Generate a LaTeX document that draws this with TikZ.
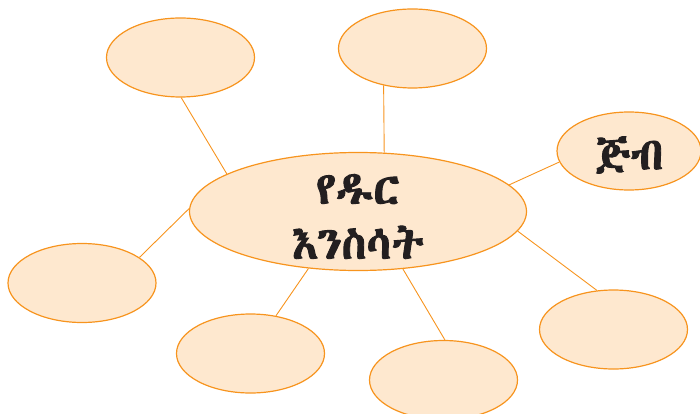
\documentclass[tikz,border=0pt]{standalone}
\usepackage{fontspec}
\usetikzlibrary{positioning}
\usetikzlibrary{shapes.geometric}
\IfFontExistsTF{Abyssinica SIL}{\newfontfamily\ethfont[FakeBold=2]{Abyssinica SIL}}{%
 \IfFontExistsTF{Noto Sans Ethiopic}{\newfontfamily\ethfont[FakeBold=2]{Noto Sans Ethiopic}}{%
  \IfFontExistsTF{FreeSerif}{\newfontfamily\ethfont[FakeBold=2]{FreeSerif}}{%
   \IfFontExistsTF{FreeSerif.otf}{\newfontfamily\ethfont[FakeBold=2]{FreeSerif.otf}}{%
    \newfontfamily\ethfont{DejaVu Sans}}}}}
\definecolor{bubfill}{HTML}{FEE8CF}
\definecolor{bubline}{HTML}{F7941E}
\definecolor{txt}{HTML}{231F20}
\tikzset{bub/.style={draw=bubline, fill=bubfill, ellipse, line width=1.2pt, inner sep=0pt, minimum width=148pt, minimum height=79pt}}
\tikzset{lnk/.style={draw=bubline, line width=0.9pt}}
\tikzset{lbl/.style={text=txt, font=\ethfont\fontsize{45}{55}\selectfont, align=center, inner sep=0pt}}

\begin{document}
\begin{tikzpicture}[on grid, x=1pt, y=1pt]
        \useasboundingbox (0,0) rectangle (700,-414);
        \node[bub, minimum width=337pt, minimum height=118pt] (c) at (358,-211.5) {};
        \node[lbl, yshift=-5pt] (ctxt) at (c) {የዱር\\እንስሳት};

        \node[bub] (tl) [above left=154pt and 177.5pt of c] {};
        \node[bub] (tm) [above right=163pt and 54.5pt of c] {};
        \node[bub, minimum width=144pt, minimum height=78pt] (ji) [above right=60.5pt and 271pt of c] {};
        \node[lbl, yshift=-4pt] (jitxt) at (ji) {ጅብ};

        \node[bub] (l) [below left=71.5pt and 276pt of c] {};
        \node[bub] (bl) [below left=142pt and 107.5pt of c] {};
        \node[bub] (bm) [below right=168.5pt and 85.5pt of c] {};
        \node[bub] (br) [below right=118pt and 255.5pt of c] {};

        \draw[lnk] (tl.-89) -- (c.164);
        \draw[lnk] (tm.-128) -- (c.66);
        \draw[lnk] (ji.-171) -- (c.10);
        \draw[lnk] (l.24) -- (c.179);
        \draw[lnk] (bl.56) -- (c.-131);
        \draw[lnk] (bm.88) -- (c.-52);
        \draw[lnk] (br.113) -- (c.-7);
    \end{tikzpicture}
\end{document}
